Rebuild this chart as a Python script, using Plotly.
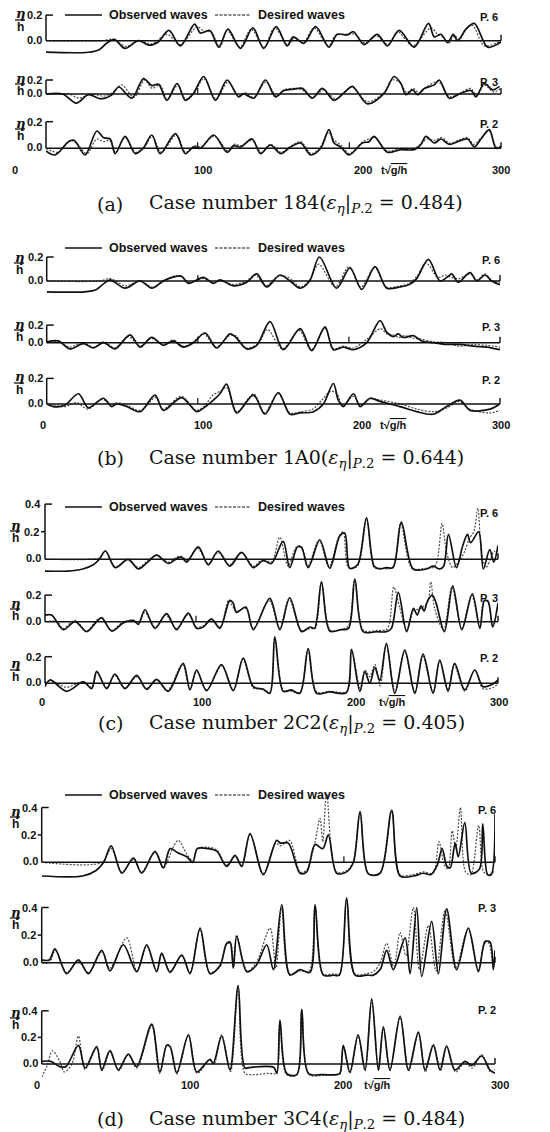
import plotly.graph_objects as go

W, H = 550, 1132

# ---------------------------------------------------------------------------
# Wave records: knots of (t*sqrt(g/h), eta/h) for observed and desired waves
# ---------------------------------------------------------------------------

# (a) Case 184
A_P6_OBS = [(0,-0.09),(28,-0.09),(35,-0.07),(40,-0.02),(45,0.01),(52,-0.06),(61,0.0),(68,-0.035),(74,-0.01),(81,0.08),(88.6,-0.04),(98,0.13),(101.8,0.06),(108,0.08),(113.9,-0.05),(120,0.09),(128.2,-0.06),(136.4,0.1),(143.6,-0.06),(151.8,0.11),(159,-0.04),(163,0.03),(170,-0.02),(177.8,0.11),(186.6,-0.05),(192,0.05),(198.7,0.045),(202.7,0.07),(209.7,-0.03),(218.5,0.05),(225.1,-0.04),(232.9,0.08),(242.8,-0.05),(252.2,0.135),(256,0.03),(260.4,0.05),(264.8,-0.015),(268.5,0.05),(271.4,0.0),(276.9,0.09),(282.4,0.135),(291.2,-0.05),(300,-0.01)]
A_P6_DES = [(0,0.0),(35.7,0.0),(44.5,0.01),(52.9,-0.045),(61,0.0),(69.8,-0.025),(79.7,0.05),(88.6,-0.03),(99.6,0.11),(104.4,0.07),(108.8,0.07),(114.6,-0.05),(119.4,0.08),(127.8,-0.05),(135.3,0.09),(143.6,-0.05),(150.7,0.1),(159.5,-0.035),(163.5,0.02),(169.6,-0.015),(176.7,0.1),(186.2,-0.04),(191,0.04),(197.6,0.05),(203.6,0.05),(210.4,-0.02),(217.4,0.04),(225.6,-0.03),(231.8,0.07),(241.7,-0.04),(253.8,0.1),(258.2,0.05),(261.5,0.03),(265.5,-0.02),(269.2,0.04),(272.5,0.01),(277.6,0.1),(281.3,0.12),(289,-0.04),(300,0.0)]
A_P3_OBS = [(0,0.0),(11,0.0),(20,-0.13),(28,-0.01),(36,-0.07),(43,-0.02),(48,0.1),(56.6,-0.06),(64.3,0.22),(69.8,0.12),(74.2,0.14),(79.7,-0.09),(86.4,0.15),(91.9,-0.09),(97,0.0),(104,0.25),(111.7,-0.09),(119.4,0.2),(127,-0.04),(130.4,0.0),(137,-0.06),(144.7,0.2),(151.3,-0.04),(156.9,0.05),(163.5,0.07),(169,0.08),(175.6,-0.06),(182.2,0.08),(189.9,-0.09),(197.6,0.04),(202,0.11),(211.9,-0.14),(222.9,0.01),(229.5,0.25),(234,0.15),(237.3,-0.01),(241.7,0.06),(245,-0.01),(249.4,0.08),(256,0.13),(259.3,0.2),(265.9,-0.06),(272.5,0.0),(280.2,0.05),(283.5,-0.04),(289,0.15),(294.5,0.06),(299,0.11)]
A_P3_DES = [(0,0.0),(15,0.0),(22,-0.06),(30,0.0),(38,-0.03),(44,0.02),(50,0.13),(58,-0.05),(65,0.2),(70,0.08),(75,0.13),(80,-0.08),(87,0.13),(92,-0.07),(98,0.02),(104,0.22),(112,-0.07),(120,0.17),(127,-0.03),(131,0.02),(137,-0.05),(145,0.17),(152,-0.03),(157,0.06),(164,0.08),(169,0.06),(176,-0.05),(183,0.06),(191,-0.07),(198,0.05),(202,0.1),(212,-0.11),(223,0.02),(228,0.2),(233,0.17),(238,0.02),(242,0.08),(246,0.02),(251,0.1),(258,0.18),(260,0.15),(266,-0.04),(273,0.01),(280,0.08),(284,-0.02),(289,0.13),(295,0.03),(300,0.08)]
A_P2_OBS = [(0,-0.02),(6,-0.05),(14.8,0.05),(18.5,0.06),(25.8,-0.05),(33.5,0.13),(38,0.08),(42.3,0.07),(45.6,-0.04),(52.2,0.09),(58.8,-0.04),(64,0.0),(69.8,0.1),(75.3,-0.04),(85.3,0.11),(91.9,-0.04),(97.4,0.01),(101.8,0.0),(110.6,0.1),(119.4,-0.03),(123.8,0.02),(128.2,0.01),(135.9,0.07),(141.4,-0.04),(148,0.025),(154.7,-0.04),(161.3,0.01),(167.9,0.04),(174.5,-0.05),(181.1,0.0),(186.6,0.14),(189.9,0.04),(194.3,0.01),(199.8,-0.05),(208.6,0.04),(213,0.05),(216.3,0.09),(225.1,-0.03),(234,-0.01),(242.8,-0.01),(247.2,0.03),(250.5,0.09),(256,0.04),(260.4,0.07),(265.9,0.03),(273.6,0.06),(278,0.07),(282.4,0.01),(286.8,0.07),(292.3,0.14),(296.7,0.0),(300,0.01)]
A_P2_DES = [(0,0.0),(8,-0.03),(16,0.06),(20,0.04),(27,-0.04),(33.5,0.07),(38,0.05),(42,0.06),(46,-0.03),(52,0.08),(59,-0.03),(65,0.01),(70,0.09),(76,-0.03),(86,0.1),(92,-0.03),(98,0.02),(102,0.01),(111,0.09),(120,-0.02),(124,0.03),(129,0.02),(136,0.06),(142,-0.03),(148,0.03),(155,-0.03),(162,0.02),(168,0.05),(175,-0.04),(181,0.01),(186,0.12),(190,0.06),(195,0.02),(200,-0.04),(209,0.05),(213,0.07),(217,0.08),(225,-0.02),(234,0.0),(243,0.0),(248,0.04),(251,0.07),(256,0.06),(261,0.08),(266,0.04),(274,0.07),(278,0.08),(282,0.03),(287,0.08),(292,0.13),(297,0.01),(300,0.02)]

# (b) Case 1A0
B_P6_OBS = [(0,-0.09),(25,-0.09),(33,-0.07),(38,-0.02),(42,0.01),(51.8,-0.06),(61.8,0.0),(69.5,-0.06),(77,0.0),(83,0.03),(89.3,0.04),(93.8,-0.02),(103.7,0.03),(110.3,-0.02),(114.7,0.01),(123.5,-0.04),(132.4,-0.01),(139,0.06),(145.6,-0.05),(154.4,0.05),(161,0.0),(167.7,-0.06),(174,0.0),(180.5,0.2),(191.9,-0.06),(200.7,0.11),(208.5,-0.07),(217.3,0.12),(225,-0.06),(233.8,-0.05),(240,-0.03),(244.9,0.02),(252.6,0.18),(260.3,0.0),(265.8,0.04),(268,0.06),(272.4,-0.01),(280.2,0.07),(284.6,0.0),(290.1,0.05),(294.5,0.0),(300,-0.03)]
B_P6_DES = [(0,0.0),(35,0.0),(42,0.02),(52,-0.04),(62,0.0),(70,-0.05),(78,0.0),(84,0.04),(90,0.03),(94,-0.01),(104,0.02),(110,-0.01),(115,0.0),(124,-0.03),(132,0.0),(138,0.05),(145,-0.04),(153,0.04),(160,0.03),(168,-0.05),(174,0.01),(180,0.14),(191,-0.05),(200,0.12),(208,-0.05),(217,0.11),(225,-0.05),(234,-0.04),(240,-0.02),(245,0.04),(251,0.15),(259,0.03),(264,0.05),(268,0.03),(273,0.02),(280,0.06),(285,0.01),(290,0.06),(295,0.0),(300,-0.01)]
B_P3_OBS = [(0,0.01),(7.7,0.02),(15.4,-0.07),(24.3,-0.01),(30.9,-0.06),(37.5,0.0),(45.2,-0.07),(55.2,0.09),(61.8,-0.05),(69.5,0.06),(77.2,-0.03),(83.8,0.02),(90.4,-0.05),(97.1,0.0),(104.8,0.11),(112.5,-0.06),(121.3,0.1),(124.6,0.07),(132.4,-0.07),(139,-0.03),(147.8,0.24),(156.6,-0.08),(167.7,0.16),(175.4,-0.09),(184.2,0.18),(189.7,-0.08),(196.3,-0.05),(203,-0.08),(211.8,0.0),(220.6,0.25),(225,0.12),(229.4,0.07),(232.7,0.1),(236,0.06),(242.7,0.08),(248.2,0.02),(255.9,0.0),(264.7,-0.02),(273.5,-0.02),(282.4,-0.04),(291.2,-0.05),(300,-0.08)]
B_P3_DES = [(0,0.0),(8,0.01),(15,-0.05),(24,0.0),(31,-0.05),(38,0.01),(45,-0.06),(54,0.07),(62,-0.04),(69,0.05),(77,-0.02),(84,0.03),(90,-0.04),(97,0.01),(104,0.1),(112,-0.05),(121,0.08),(125,0.08),(132,-0.06),(140,-0.01),(146,0.15),(156,-0.07),(167,0.14),(175,-0.08),(184,0.16),(190,-0.07),(196,-0.04),(203,-0.06),(212,0.04),(221,0.16),(225,0.1),(229,0.09),(233,0.06),(237,0.08),(243,0.05),(248,0.04),(256,0.01),(265,0.0),(273,-0.04),(282,-0.02),(291,-0.03),(300,-0.05)]
B_P2_OBS = [(0,0.0),(4.4,-0.02),(12,-0.01),(21,0.08),(27.6,-0.03),(37.5,0.045),(43,-0.02),(46.3,0.0),(52.9,-0.02),(61.8,-0.06),(71.7,0.07),(77.2,-0.05),(89.3,0.05),(99.3,-0.06),(104,-0.03),(110.3,0.03),(114.7,0.08),(119.1,0.155),(125.7,-0.07),(136.8,0.07),(144.5,-0.08),(153.3,0.09),(161,-0.08),(167.7,-0.07),(176.5,-0.06),(183.1,0.0),(189.7,0.16),(193,0.03),(196.3,-0.02),(203,0.08),(207.4,-0.02),(214,0.045),(220.6,0.02),(233.8,-0.02),(244.9,-0.06),(255.9,-0.08),(264.7,-0.02),(273.5,0.03),(280.2,-0.05),(293.4,-0.04),(300,0.0)]
B_P2_DES = [(0,0.0),(5,-0.01),(12,-0.02),(20,0.01),(27,-0.04),(37,0.035),(43,-0.01),(46,0.01),(53,-0.01),(62,-0.05),(72,0.05),(77,-0.04),(89,0.06),(99,-0.05),(104,-0.02),(110,0.07),(115,0.1),(119,0.13),(126,-0.06),(137,0.08),(144,-0.07),(153,0.08),(161,-0.07),(168,-0.06),(176,-0.04),(182,0.03),(188,0.1),(192,0.08),(196,-0.01),(203,0.06),(208,-0.01),(214,0.04),(221,0.03),(234,0.0),(245,-0.04),(256,-0.06),(265,-0.03),(273,0.02),(280,-0.04),(293,-0.07),(300,-0.05)]

# (c) Case 2C2
C_P6_OBS = [(0,-0.085),(15,-0.085),(25,-0.07),(32,-0.04),(36,0.0),(40,0.06),(46.5,-0.06),(55,0.0),(61.8,-0.07),(68,-0.02),(73.9,0.03),(81.6,-0.03),(88,0.01),(90.4,0.015),(93.8,-0.02),(101.5,0.09),(108.1,-0.04),(114.7,0.06),(122.4,-0.05),(130.2,0.05),(137.9,-0.06),(144.5,-0.01),(150,-0.03),(157.7,0.13),(162.1,-0.06),(167.2,0.09),(169.9,0.085),(174.3,-0.06),(182,0.14),(188.6,-0.065),(195.2,0.17),(198.5,0.19),(201.8,-0.065),(207,-0.04),(212.9,0.3),(218,-0.05),(221.7,-0.07),(226,-0.06),(230.5,-0.06),(236,0.27),(243.8,-0.07),(252.6,-0.07),(257,-0.05),(261.4,-0.07),(264,-0.05),(267.2,0.18),(272.5,-0.06),(276.7,0.1),(279.8,0.18),(281.9,0.12),(287.2,0.2),(290.3,-0.07),(294.5,0.07),(297.2,-0.02),(300,0.1)]
C_P6_DES = [(0,0.0),(30,0.0),(36,0.01),(40,0.06),(46.5,-0.055),(55,0.0),(62,-0.06),(68,-0.01),(74,0.03),(81.6,-0.02),(88,0.02),(91,0.02),(94,-0.01),(101,0.08),(108,-0.03),(114.5,0.05),(122,-0.04),(130,0.05),(138,-0.05),(144,0.0),(150,-0.02),(155.5,0.16),(161,-0.05),(166.5,0.09),(170,0.09),(174,-0.05),(181.5,0.14),(188,-0.055),(194.5,0.16),(197.5,0.2),(201,-0.06),(207,-0.05),(212.9,0.29),(218,-0.06),(222,-0.065),(230,-0.06),(235.5,0.26),(243,-0.065),(252,-0.065),(257,-0.06),(259.5,-0.02),(263,0.26),(266,0.05),(270,-0.06),(275,0.0),(278,0.06),(281,0.15),(284,0.2),(286.7,0.37),(289,0.05),(292,-0.06),(295,0.0),(297.5,0.06),(300,0.02)]
C_P3_OBS = [(0,0.05),(4.4,0.05),(12.1,-0.06),(19.9,0.0),(27.6,-0.075),(34.2,0.0),(37.5,0.03),(44.1,-0.07),(51.8,-0.01),(58.5,0.01),(61.8,-0.02),(66.2,0.09),(72.8,-0.05),(80.5,0.06),(87.1,-0.06),(94.9,0.065),(100.4,-0.05),(104.8,-0.04),(110.3,0.02),(115.8,-0.05),(122.4,0.16),(124.6,0.14),(126.8,0.07),(133,0.11),(137.9,-0.06),(148.9,0.175),(155.5,-0.06),(162.1,0.18),(169.9,-0.075),(175.4,-0.04),(178.5,-0.05),(183.1,0.3),(188.6,-0.07),(196,-0.06),(201,-0.05),(205.2,0.32),(210.7,-0.075),(219.5,-0.075),(226.1,-0.075),(229.4,-0.05),(234,0.22),(239.5,-0.075),(244,0.1),(246.5,0.05),(249,0.12),(251,0.08),(253.5,0.16),(256.5,0.2),(259,0.14),(264.5,-0.075),(270,0.27),(276,-0.06),(283,0.21),(288,-0.05),(291,0.16),(293.5,0.15),(296.5,-0.04),(300,0.14)]
C_P3_DES = [(0,0.0),(8,0.0),(12,-0.05),(20,0.01),(27.6,-0.07),(34,0.01),(37.5,0.025),(44,-0.065),(52,0.0),(58,0.01),(62,-0.01),(66,0.07),(73,-0.04),(80,0.05),(87,-0.05),(95,0.055),(100,-0.04),(105,-0.03),(110,0.02),(116,-0.04),(121.5,0.16),(124,0.12),(127,0.08),(133,0.1),(138,-0.05),(148.5,0.16),(155.5,-0.05),(161.5,0.17),(170,-0.065),(176,-0.05),(179,-0.05),(183,0.29),(189,-0.065),(196,-0.06),(201,-0.03),(205,0.31),(211,-0.065),(220,-0.065),(226,-0.06),(228,-0.02),(231,0.26),(235,0.1),(239.5,-0.06),(244,0.08),(249,0.1),(253.5,0.15),(255.5,0.3),(258,0.1),(264,-0.06),(269.5,0.26),(276,-0.05),(282.5,0.2),(288,-0.04),(290.5,0.15),(293,0.16),(296.5,-0.03),(300,0.12)]
C_P2_OBS = [(0,-0.025),(3.3,0.025),(14.3,-0.06),(25.4,0.01),(30.9,-0.04),(34.2,0.09),(40.8,-0.04),(46.3,0.07),(52.9,-0.04),(60.7,0.06),(67.3,-0.045),(73.9,0.03),(81.6,-0.06),(91.5,0.15),(96,-0.05),(100.4,0.1),(107,-0.055),(116.9,0.14),(124.6,-0.055),(131.3,0.19),(137.9,-0.025),(144.5,-0.045),(148.9,-0.075),(152.2,0.35),(157.7,-0.06),(163,-0.05),(168.8,-0.075),(174.3,0.26),(179.8,-0.075),(188.6,-0.065),(199.6,-0.07),(203,0.255),(208.5,-0.06),(211.8,0.09),(215.1,0.0),(218.4,0.12),(221.7,0.02),(226.1,0.3),(231.6,-0.075),(238.3,0.25),(244.9,-0.075),(250.4,0.22),(257,-0.075),(261.4,0.175),(266.9,-0.06),(271.3,0.15),(278,-0.05),(284.6,0.1),(290.1,-0.025),(296.7,-0.005),(300,0.025)]
C_P2_DES = [(0,0.0),(4,0.02),(14,-0.03),(25,0.01),(31,-0.03),(34.5,0.08),(41,-0.035),(46,0.06),(53,-0.035),(61,0.05),(67,-0.04),(74,0.025),(81,-0.055),(91,0.14),(96,-0.045),(100.5,0.09),(107,-0.05),(117,0.13),(125,-0.05),(131,0.18),(138,-0.035),(144,-0.04),(149,-0.065),(152.2,0.34),(158,-0.055),(163,-0.06),(169,-0.065),(174,0.25),(180,-0.065),(189,-0.06),(200,-0.06),(203,0.25),(209,-0.05),(212,0.1),(215,0.05),(218.5,0.14),(222,-0.02),(226,0.29),(232,-0.07),(238,0.24),(245,-0.07),(250,0.21),(257,-0.065),(261.5,0.17),(267,-0.05),(271,0.14),(278,-0.06),(284.6,0.1),(290,-0.04),(297,-0.03),(300,0.0)]

# (d) Case 3C4
D_P6_OBS = [(0,-0.1),(27,-0.1),(36,-0.06),(41,0.0),(46,0.12),(53,-0.08),(60.7,0.03),(66.2,-0.08),(75,0.08),(80.5,-0.04),(85,0.1),(90,0.07),(96,0.04),(100,0.0),(103,0.1),(110,0.1),(116,0.08),(122.4,-0.03),(128,0.05),(132.4,-0.03),(137.9,0.21),(146.7,-0.09),(155.5,0.16),(158,0.14),(163.2,0.14),(171,-0.08),(175.4,-0.07),(180.9,0.13),(186,0.1),(189.7,0.2),(195.2,-0.08),(201.8,-0.07),(206.3,0.0),(210.7,0.37),(216.2,-0.085),(223.9,-0.08),(231.6,0.38),(237.2,-0.1),(246,-0.1),(252.6,-0.08),(257.5,-0.09),(261.8,-0.02),(265,0.1),(268.2,-0.03),(270.4,-0.04),(273.6,0.14),(275.7,0.04),(280,0.29),(284.3,-0.08),(289.7,-0.05),(291.9,0.28),(295.1,-0.09),(297.5,-0.09),(300,0.35)]
D_P6_DES = [(0,0.0),(40,0.0),(46,0.1),(53,-0.07),(60.7,0.02),(66,-0.07),(75,0.07),(80.5,-0.04),(87,0.11),(90.4,0.16),(96,0.06),(100,0.01),(103,0.1),(110,0.11),(116,0.09),(122,-0.02),(128,0.04),(132,-0.02),(138,0.2),(146.7,-0.08),(155,0.14),(158,0.12),(164,0.16),(171,-0.07),(175,-0.06),(180,0.1),(184.2,0.32),(186,0.15),(188.6,0.5),(195,-0.07),(202,-0.06),(206,0.0),(210.7,0.36),(216,-0.08),(224,-0.08),(231.6,0.37),(237,-0.09),(246,-0.09),(252.6,-0.07),(259,-0.08),(262.9,0.15),(266.5,-0.02),(269,-0.05),(271.7,0.23),(274,0.1),(277.1,0.4),(280.5,-0.07),(284,-0.09),(289.2,0.27),(292.5,-0.07),(296,-0.09),(300,-0.06)]
D_P3_OBS = [(0,0.02),(5,0.02),(8.8,0.1),(16.5,-0.08),(24.3,0.02),(30.9,-0.08),(39.7,0.09),(45.2,-0.06),(54,0.13),(62.9,-0.065),(69.5,0.13),(76.1,-0.065),(79.4,0.07),(84.9,-0.07),(92.7,0.055),(98.2,-0.08),(104.8,0.25),(111.4,-0.08),(118,-0.02),(122.4,0.14),(124.6,0.15),(126.8,-0.04),(129.1,0.19),(135.7,-0.065),(142,-0.02),(148.9,0.13),(153.3,-0.05),(158.8,0.42),(164.3,-0.09),(171,-0.05),(177.6,-0.07),(180.9,0.42),(186.4,-0.09),(193,-0.09),(197,-0.09),(201.8,0.47),(207.4,-0.09),(215.1,-0.09),(219.5,-0.09),(224,-0.05),(228.3,0.09),(232.7,-0.05),(240.5,0.18),(243.8,-0.08),(248.2,0.4),(251.5,-0.1),(258.1,0.3),(262.5,-0.08),(268,0.39),(274.6,-0.05),(282.4,0.25),(289,-0.065),(293.4,0.15),(296.7,0.15),(298.9,-0.05),(300,0.09)]
D_P3_DES = [(0,0.0),(5,0.0),(9,0.09),(16.5,-0.07),(24,0.01),(31,-0.07),(40,0.08),(45,-0.04),(56.3,0.18),(63,-0.06),(69.5,0.12),(76,-0.06),(79.4,0.06),(85,-0.06),(92.7,0.05),(98,-0.07),(104.8,0.24),(111,-0.07),(118,-0.03),(122,0.13),(125,0.14),(127,-0.03),(129,0.2),(136,-0.06),(142,0.0),(151.1,0.25),(155,-0.04),(158.8,0.4),(164,-0.08),(171,-0.06),(177,-0.06),(181,0.41),(186,-0.08),(193,-0.08),(197,-0.08),(201.8,0.46),(207,-0.08),(215,-0.08),(220,-0.06),(224,0.0),(228.3,0.14),(233,-0.03),(237.2,0.22),(241,0.05),(246,0.4),(250,-0.05),(255.9,0.27),(261,-0.06),(267,0.38),(274,-0.04),(282,0.24),(289,-0.05),(293.4,0.16),(296,0.14),(299,-0.03),(300,0.06)]
D_P2_OBS = [(0,0.02),(6,0.02),(12,-0.02),(16,-0.02),(24.3,0.14),(28.7,-0.03),(36.4,0.13),(39.7,-0.045),(45.2,0.1),(50.7,-0.045),(57.3,0.075),(62.8,-0.02),(72.8,0.3),(78.3,-0.06),(82.7,0.14),(85,0.13),(89.4,-0.065),(97.1,0.22),(102.6,-0.06),(111.4,0.035),(113.6,0.005),(119.1,0.21),(124.6,-0.045),(130,0.59),(134.5,-0.03),(138,-0.025),(153.5,-0.025),(155.7,-0.07),(157.7,0.33),(162.1,-0.07),(168.8,-0.08),(172.1,0.41),(176.5,-0.07),(186,-0.08),(195.2,-0.08),(197.4,-0.07),(199.6,0.14),(204,-0.06),(209.4,0.22),(214,-0.045),(218.4,0.49),(222.8,-0.045),(226.1,0.28),(230.5,-0.045),(237.2,0.36),(242.7,-0.045),(249.3,0.24),(253.7,-0.045),(259.2,0.14),(263.6,-0.045),(268,0.135),(273.5,-0.045),(280.2,0.02),(284.6,-0.01),(291.2,0.06),(296.7,-0.045),(300,-0.07)]
D_P2_DES = [(0,-0.1),(4,0.0),(7,0.1),(12,0.02),(15,-0.06),(20,0.0),(24.3,0.21),(28.7,-0.04),(36.4,0.12),(40,-0.05),(45.2,0.09),(51,-0.05),(57.3,0.07),(63,-0.03),(72.8,0.29),(78,-0.07),(83,0.15),(85,0.13),(89.4,-0.075),(97.1,0.21),(103,-0.07),(111,0.03),(114,0.0),(119,0.22),(125,-0.055),(130,0.57),(134.5,-0.07),(140,-0.08),(150,-0.07),(155,-0.07),(157.7,0.32),(162,-0.08),(169,-0.08),(172.1,0.4),(177,-0.08),(186,-0.085),(195,-0.08),(197.4,-0.075),(199.6,0.13),(204,-0.07),(209.4,0.21),(214,-0.05),(218.4,0.48),(223,-0.05),(226.1,0.27),(230.5,-0.05),(237.2,0.35),(243,-0.05),(249.3,0.23),(254,-0.06),(259.2,0.15),(264,-0.05),(268,0.13),(274,-0.06),(280,0.01),(285,-0.03),(291.2,0.07),(297,-0.06),(300,-0.04)]

X_TICKS = ["0", "100", "200", "300"]

# ---------------------------------------------------------------------------
# Page layout (pixel positions on a 550 x 1132 page)
# ---------------------------------------------------------------------------
LEGEND_X = (65, 102, 107, 215, 251, 256)

PANELS = [
    dict(tag="(a)", case="184", eps="0.484", left=46, right=501, legend_y=15,
         tick_y=170, tick_x=[15, 203, 363, 501], tg_x=394,
         cap_y=204, frac_x=20, plab_x=500,
         rows=[dict(label="P. 6", obs=A_P6_OBS, des=A_P6_DES, zero=40.7, k=128, top=0.2, frac_y=20, lab_y=17, mid=[]),
               dict(label="P. 3", obs=A_P3_OBS, des=A_P3_DES, zero=94.0, k=70, top=0.2, frac_y=84, lab_y=82, mid=[100]),
               dict(label="P. 2", obs=A_P2_OBS, des=A_P2_DES, zero=148.3, k=133, top=0.2, frac_y=129, lab_y=124, mid=[100, 200])]),
    dict(tag="(b)", case="1A0", eps="0.644", left=46.7, right=500, legend_y=248,
         tick_y=425, tick_x=[43, 203, 362, 501], tg_x=393,
         cap_y=458, frac_x=19, plab_x=502,
         rows=[dict(label="P. 6", obs=B_P6_OBS, des=B_P6_DES, zero=281.0, k=120, top=0.2, frac_y=263, lab_y=260, mid=[100]),
               dict(label="P. 3", obs=B_P3_OBS, des=B_P3_DES, zero=342.7, k=88, top=0.2, frac_y=330, lab_y=327, mid=[100, 200]),
               dict(label="P. 2", obs=B_P2_OBS, des=B_P2_DES, zero=404.0, k=128, top=0.2, frac_y=383, lab_y=380, mid=[100])]),
    dict(tag="(c)", case="2C2", eps="0.405", left=45, right=498, legend_y=507,
         tick_y=702, tick_x=[42, 202, 356, 499], tg_x=392,
         cap_y=723, frac_x=15, plab_x=500,
         rows=[dict(label="P. 6", obs=C_P6_OBS, des=C_P6_DES, zero=559.3, k=138, top=0.4, frac_y=531, lab_y=513, mid=[]),
               dict(label="P. 3", obs=C_P3_OBS, des=C_P3_DES, zero=621.7, k=133, top=0.2, frac_y=609, lab_y=598, mid=[100]),
               dict(label="P. 2", obs=C_P2_OBS, des=C_P2_DES, zero=683.3, k=133, top=0.2, frac_y=670, lab_y=658, mid=[])]),
    dict(tag="(d)", case="3C4", eps="0.484", left=41.7, right=495, legend_y=795,
         tick_y=1085, tick_x=[37, 190, 343, 500], tg_x=377,
         cap_y=1119, frac_x=15, plab_x=498,
         rows=[dict(label="P. 6", obs=D_P6_OBS, des=D_P6_DES, zero=862.3, k=137, top=0.4, frac_y=817, lab_y=810, mid=[200]),
               dict(label="P. 3", obs=D_P3_OBS, des=D_P3_DES, zero=962.7, k=138, top=0.4, frac_y=918, lab_y=908, mid=[]),
               dict(label="P. 2", obs=D_P2_OBS, des=D_P2_DES, zero=1064.0, k=133, top=0.4, frac_y=1018, lab_y=1010, mid=[])]),
]

INK = "#111111"
SANS = "Liberation Sans, Arial, sans-serif"
SERIF = "DejaVu Serif, serif"


def fx(px):
    return px / W


def fy(py):
    return 1 - py / H


fig = go.Figure()
shapes, annots = [], []
layout_axes = {}


def paper_line(x0, y0, x1, y1, width=1.4, dash=None):
    ln = dict(color=INK, width=width)
    if dash:
        ln["dash"] = dash
    shapes.append(dict(type="line", xref="paper", yref="paper",
                       x0=fx(x0), y0=fy(y0), x1=fx(x1), y1=fy(y1), line=ln))


def paper_text(txt, x, y, size, family=SANS, xanchor="center", yanchor="middle", bold=True):
    if bold:
        txt = "<b>" + txt + "</b>"
    annots.append(dict(text=txt, x=fx(x), y=fy(y), xref="paper", yref="paper", showarrow=False,
                       xanchor=xanchor, yanchor=yanchor, font=dict(family=family, size=size, color=INK)))


n = 0
for p in PANELS:
    L, R = p["left"], p["right"]
    for row in p["rows"]:
        n += 1
        sx = "" if n == 1 else str(n)
        xa, ya = "x" + sx, "y" + sx
        Z, k = row["zero"], row["k"]
        layout_axes["xaxis" + sx] = dict(domain=[fx(L), fx(R)], range=[0, 300], anchor=ya,
                                         visible=False, fixedrange=True)
        layout_axes["yaxis" + sx] = dict(domain=[0, 1], range=[(Z - H) / k, Z / k], anchor=xa,
                                         visible=False, fixedrange=True)

        t_d, v_d = zip(*row["des"])
        t_o, v_o = zip(*row["obs"])
        fig.add_trace(go.Scatter(x=list(t_d), y=list(v_d), mode="lines", xaxis=xa, yaxis=ya,
                                 line=dict(color="#4a4a4a", width=1.2, dash="2px,1.5px",
                                           shape="spline", smoothing=0.9),
                                 hoverinfo="skip", showlegend=False))
        fig.add_trace(go.Scatter(x=list(t_o), y=list(v_o), mode="lines", xaxis=xa, yaxis=ya,
                                 line=dict(color=INK, width=1.7, shape="spline", smoothing=0.9),
                                 hoverinfo="skip", showlegend=False))

        # axis frame: zero line, left axis with its ticks, end tick and interior ticks
        tpx = (R - L) / 300.0
        top_px = Z - row["top"] * k
        paper_line(L, Z, R, Z, width=1.6)
        paper_line(L, Z, L, top_px, width=1.5)
        paper_line(L, top_px, L + 7, top_px, width=1.5)
        paper_text(f"{row['top']:.1f}", L - 2, top_px, 11, xanchor="right")
        paper_text("0.0", L - 2, Z - 1, 11, xanchor="right")
        if row["top"] > 0.2:
            mid_px = Z - 0.2 * k
            paper_line(L - 4, mid_px, L, mid_px, width=1.5)
            paper_text("0.2", L - 4, mid_px, 11, xanchor="right")
        paper_line(R, Z, R, Z - 6, width=1.4)
        for tm in row["mid"]:
            xm = L + tm * tpx
            paper_line(xm, Z, xm, Z - 6, width=1.2)

        # eta / h fraction
        fxp, fyp = p["frac_x"], row["frac_y"]
        paper_text("<i>η</i>", fxp, fyp - 6, 13, family="DejaVu Serif, serif")
        paper_line(fxp - 5, fyp, fxp + 5, fyp, width=1.3)
        paper_text("h", fxp, fyp + 7, 12)

        # gauge label
        paper_text(row["label"], p["plab_x"], row["lab_y"], 11, xanchor="right")

    # legend
    s0, s1, to, d0, d1, td = LEGEND_X
    ly = p["legend_y"]
    paper_line(s0, ly, s1, ly, width=1.5)
    paper_text("Observed waves", to, ly, 12.5, xanchor="left")
    paper_line(d0, ly, d1, ly, width=1.1, dash="3px,1.5px")
    paper_text("Desired waves", td, ly, 12.5, xanchor="left")

    # time axis labels
    for lab, xp in zip(X_TICKS, p["tick_x"]):
        paper_text(lab, xp, p["tick_y"], 11)
    paper_text("t√<span style='text-decoration:overline'>g/h</span>", p["tg_x"], p["tick_y"], 11)

    # caption
    paper_text(p["tag"], 110, p["cap_y"], 19, family=SERIF, bold=False)
    cap = (f"Case number {p['case']}(<i>ε</i><sub><i>η</i></sub>|<sub><i>P</i>.2</sub> = {p['eps']})")
    paper_text(cap, 147, p["cap_y"], 19, family=SERIF, xanchor="left", bold=False)

fig.update_layout(width=W, height=H, margin=dict(l=0, r=0, t=0, b=0),
                  paper_bgcolor="white", plot_bgcolor="rgba(0,0,0,0)", showlegend=False,
                  shapes=shapes, annotations=annots, **layout_axes)

fig.write_html("out.html")
